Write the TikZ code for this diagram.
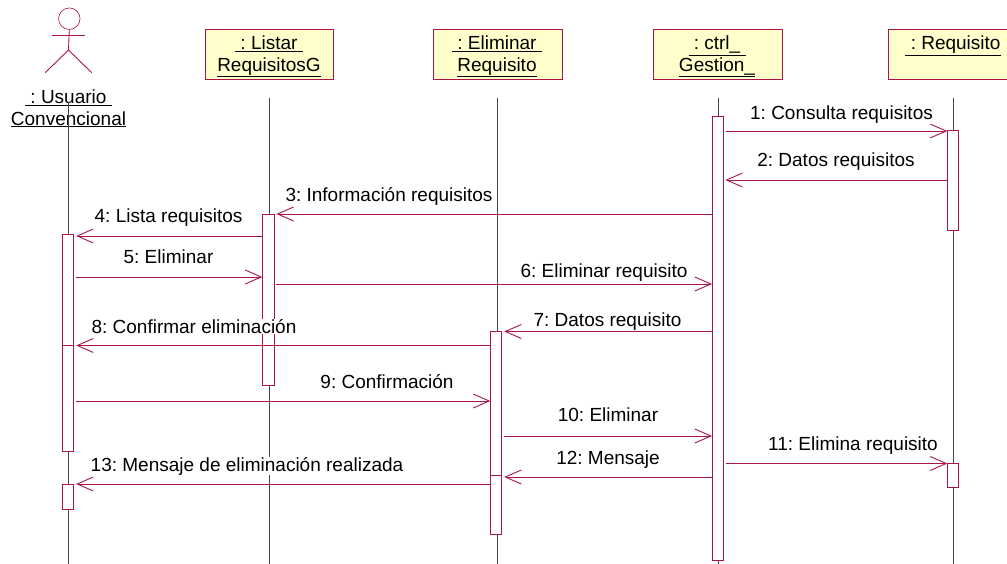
\documentclass[tikz,border=0pt]{standalone}
\usepackage{fontspec}
\setmainfont{Liberation Sans}
\usetikzlibrary{arrows.meta}
\definecolor{umlred}{RGB}{170,20,70}
\definecolor{umlfill}{RGB}{255,255,204}
\definecolor{lifeg}{RGB}{70,70,70}
\tikzset{
  x=1pt,y=-1pt,
  objbox/.style={draw=umlred,fill=umlfill,line width=0.9pt,minimum width=128.5pt,minimum height=50pt,inner sep=0pt,anchor=north west},
  objtext/.style={font=\fontsize{19}{21.5}\selectfont,align=center,inner sep=0pt},
  actbox/.style={draw=umlred,fill=white,line width=0.9pt,minimum width=10.5pt,inner sep=0pt,anchor=north},
  lifeline/.style={draw=lifeg,line width=0.7pt},
  msg/.style={draw=umlred,line width=0.9pt,-{Straight Barb[length=16pt,width=14pt,line width=0.9pt,angle'=0]}},
  seg/.style={draw=umlred,line width=0.9pt},
  msgtext/.style={font=\fontsize{19}{21}\selectfont,fill=white,inner sep=0.5pt,anchor=base},
}
\tikzset{msg/.style={draw=umlred,line width=0.9pt,-{Straight Barb[length=16pt,width=14pt,line width=0.9pt]}}}
\newcommand{\ul}[1]{\underline{#1}}
\begin{document}
\frenchspacing
\begin{tikzpicture}
\useasboundingbox (0,0) rectangle (1007,564);
% heads
\node[objbox] (listar) at (204.5,29) {};
\node[objbox] (elim) at (433,29) {};
\node[objbox] (ctrl) at (653,29) {};
\node[objbox] (req) at (888,29) {};
\node[objtext] at (269,56.5) {\ul{\ : Listar\ }\\\ul{RequisitosG}};
\node[objtext] at (497,56.5) {\ul{\ : Eliminar\ }\\\ul{Requisito}};
\node[objtext] at (717,56.5) {\ul{\ : ctrl\_\ }\\\ul{Gestion\_}};
\node[objtext] at (953,46) {\ul{\ : Requisito}};
% actor
\node[draw=umlred,circle,minimum size=21.5pt,inner sep=0pt,line width=0.6pt] (head) at (69.3,18.7) {};
\coordinate (hip) at (68.5,50);
\coordinate (armL) at (52,35);
\coordinate (armR) at (85,35);
\coordinate (legL) at (45.2,72.7);
\coordinate (legR) at (91.7,72.7);
\draw[seg] (head.south) -- (hip);
\draw[seg] (armL) -- (armR);
\draw[seg] (legL) -- (hip) -- (legR);
\node[objtext] (usu) at (68.5,108.5) {\ul{\ : Usuario\ }\\\ul{Convencional}};
% lifelines
\coordinate (top0) at (68.5,102);
\coordinate (bot0) at (68.5,564);
\coordinate (bot1) at (269,564);
\coordinate (bot2) at (497,564);
\coordinate (bot3) at (718.5,564);
\coordinate (bot4) at (953.5,564);
\coordinate (top1) at (269,98);
\coordinate (top2) at (497,98);
\coordinate (top3) at (718.5,98);
\coordinate (top4) at (953.5,98);
\draw[lifeline] (top0) -- (bot0);
\draw[lifeline] (top1) -- (bot1);
\draw[lifeline] (top2) -- (bot2);
\draw[lifeline] (top3) -- (bot3);
\draw[lifeline] (top4) -- (bot4);
% activations
\node[actbox,minimum height=217pt] (u1) at (68,234) {};
\node[actbox,minimum height=25pt] (u2) at (68,483.5) {};
\node[actbox,minimum height=171pt,minimum width=11.5pt] (l1) at (268.5,214) {};
\node[actbox,minimum height=203pt] (e1) at (496,331) {};
\node[actbox,minimum height=443pt] (c1) at (717.7,116.5) {};
\node[actbox,minimum height=100pt] (r1) at (953,130.5) {};
\node[actbox,minimum height=24pt] (r2) at (953,463) {};
% y positions
\coordinate (y1) at (0,131);
\coordinate (y2) at (0,180);
\coordinate (y3) at (0,214);
\coordinate (y4) at (0,236);
\coordinate (y5) at (0,277);
\coordinate (y6) at (0,284);
\coordinate (y7) at (0,331.5);
\coordinate (y8) at (0,345.5);
\coordinate (y9) at (0,401);
\coordinate (y10) at (0,436);
\coordinate (y11) at (0,463.5);
\coordinate (y12) at (0,477);
\coordinate (y13) at (0,484);
\coordinate (y14) at (0,475);
% label that interrupts the lifeline
\node[msgtext] (t13) at (247,471) {13: Mensaje de eliminación realizada};
% messages
\draw[msg] ([xshift=3pt]c1.east |- y1) -- (r1.west |- y1);
\draw[msg] (r1.west |- y2) -- ([xshift=2pt]c1.east |- y2);
\draw[msg] (c1.west |- y3) -- ([xshift=1.75pt]l1.east |- y3);
\draw[msg] (l1.west |- y4) -- ([xshift=2.5pt]u1.east |- y4);
\draw[msg] ([xshift=2.5pt]u1.east |- y5) -- (l1.west |- y5);
\draw[msg] ([xshift=1.75pt]l1.east |- y6) -- (c1.west |- y6);
\draw[msg] (c1.west |- y7) -- ([xshift=2.5pt]e1.east |- y7);
\draw[msg] (e1.west |- y8) -- ([xshift=2.5pt]u1.east |- y8);
\draw[msg] ([xshift=2.5pt]u1.east |- y9) -- (e1.west |- y9);
\draw[msg] ([xshift=2.5pt]e1.east |- y10) -- (c1.west |- y10);
\draw[msg] ([xshift=3pt]c1.east |- y11) -- (r2.west |- y11);
\draw[msg] (c1.west |- y12) -- ([xshift=2.5pt]e1.east |- y12);
\draw[msg] (e1.west |- y13) -- ([xshift=2.5pt]u2.east |- y13);
\draw[seg] (u1.west |- y8) -- (u1.east |- y8);
\draw[seg] (e1.west |- y14) -- (e1.east |- y14);
% other labels
\node[msgtext] at (841.5,119.3) {1: Consulta requisitos};
\node[msgtext] at (836,166.7) {2: Datos requisitos};
\node[msgtext] at (389,201.7) {3: Información requisitos};
\node[msgtext] at (168.6,222.3) {4: Lista requisitos};
\node[msgtext] at (168.5,264) {5: Eliminar};
\node[msgtext] at (604,277.5) {6: Eliminar requisito};
\node[msgtext] at (607.5,326.7) {7: Datos requisito};
\node[msgtext] at (194,333.3) {8: Confirmar eliminación};
\node[msgtext] at (387,388) {9: Confirmación};
\node[msgtext] at (608,421.7) {10: Eliminar};
\node[msgtext] at (853,450.3) {11: Elimina requisito};
\node[msgtext] at (608,464) {12: Mensaje};
\end{tikzpicture}
\end{document}
